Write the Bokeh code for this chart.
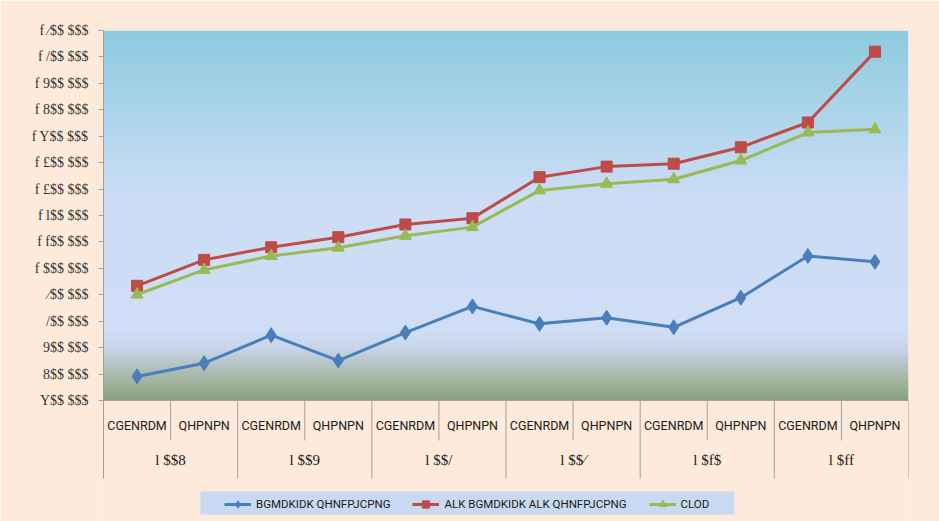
import numpy as np
from bokeh.plotting import figure
from bokeh.models import (Range1d, FixedTicker, Legend, LegendItem, PlainText)
from bokeh.core.properties import value
from bokeh.embed import file_html
from bokeh.resources import INLINE

# ---------------- data (text as shown in the reference) ----------------
years = ["l $$8", "l $$9", "l $$/", "l $$⁄", "l $f$", "l $ff"]
halves = ["CGENRDM", "QHPNPN"]
series_names = ["BGMDKIDK QHNFPJCPNG", "ALK BGMDKIDK ALK QHNFPJCPNG", "CLOD"]

blue = [591000, 641000, 747000, 651000, 757000, 856000,
        790000, 813000, 777000, 889000, 1047000, 1025000]
red = [934000, 1032000, 1080000, 1118000, 1166000, 1190000,
       1345000, 1385000, 1396000, 1458000, 1552000, 1820000]
green = [901000, 994000, 1047000, 1078000, 1123000, 1156000,
         1295000, 1320000, 1337000, 1408000, 1514000, 1526000]

y_ticks = [500000, 600000, 700000, 800000, 900000, 1000000, 1100000, 1200000,
           1300000, 1400000, 1500000, 1600000, 1700000, 1800000, 1900000]
y_tick_labels = ["Y$$ $$$", "8$$ $$$", "9$$ $$$", "/$$ $$$", "⁄$$ $$$",
                 "f $$$ $$$", "f f$$ $$$", "f l$$ $$$", "f £$$ $$$", "f £$$ $$$",
                 "f Y$$ $$$", "f 8$$ $$$", "f 9$$ $$$", "f /$$ $$$", "f ⁄$$ $$$"]

# ---------------- layout / style ----------------
W, H = 939, 521
LEFT, RIGHT, TOP = 103, 31, 30
PLOT_BOTTOM_PX = 400          # bottom of the coloured plot area
PAGE = "#FDEADA"
GRID = "#A0A0A0"
C_BLUE, C_RED, C_GREEN = "#4A7EBB", "#BE4B48", "#98B954"
SERIF_NAME = "Liberation Serif"
SANS_NAME = "Roboto"

periods = [(y, h) for y in years for h in halves]
n = len(periods)
xs = [i + 0.5 for i in range(n)]

y0, y1 = y_ticks[0], y_ticks[-1]
area_h = PLOT_BOTTOM_PX - TOP
frame_w = W - LEFT - RIGHT
k = (y1 - y0) / area_h                     # data units per pixel
y_start = y0 - (H - PLOT_BOTTOM_PX) * k    # frame continues down to the page bottom


def px_x(px):   # page pixel -> x data (layout helper for the legend box)
    return (px - LEFT) / frame_w * n


def px_y(py):   # page pixel -> y data
    return y0 - (py - PLOT_BOTTOM_PX) * k


p = figure(width=W, height=H, x_range=Range1d(0, n), y_range=Range1d(y_start, y1),
           output_backend="svg", toolbar_location=None, x_axis_location=None,
           min_border_left=LEFT, min_border_right=RIGHT,
           min_border_top=TOP, min_border_bottom=0,
           border_fill_color=PAGE, background_fill_color=PAGE,
           outline_line_color=None)
p.grid.visible = False

# gradient plot-area background (style only)
stops_px = [0, 90, 170, 300, 318, 345, 370]
stops_rgb = [(141, 203, 224), (176, 214, 236), (205, 222, 246), (208, 221, 247),
             (200, 212, 232), (168, 186, 170), (137, 162, 128)]
rows = np.arange(area_h)
img = np.empty((area_h, 1), dtype=np.uint32)
view = img.view(dtype=np.uint8).reshape((area_h, 1, 4))
for c in range(3):
    ch = np.interp(rows, stops_px, [s[c] for s in stops_rgb])
    view[:, 0, c] = ch[::-1].astype(np.uint8)
view[:, 0, 3] = 255
bg = p.image_rgba(image=[img], x=0, y=y0, dw=n, dh=y1 - y0)
bg.level = "underlay"

# value axis
yax = p.yaxis[0]
yax.ticker = FixedTicker(ticks=y_ticks)
yax.major_label_overrides = {t: PlainText(text=s) for t, s in zip(y_ticks, y_tick_labels)}
yax.bounds = (px_y(478), y1)
yax.minor_tick_line_color = None
yax.major_tick_out = 5
yax.major_tick_in = 0
yax.major_tick_line_color = GRID
yax.axis_line_color = GRID
yax.major_label_standoff = 10
yax.major_label_text_font = SERIF_NAME
yax.major_label_text_font_size = "14px"
yax.major_label_text_color = "#333333"

# category table below the plot area
short_x = [i for i in range(1, n, 2)]
long_x = [i for i in range(0, n + 1, 2)]
p.segment(x0=short_x + long_x, x1=short_x + long_x,
          y0=[y0] * (len(short_x) + len(long_x)),
          y1=[px_y(440)] * len(short_x) + [px_y(478)] * len(long_x),
          line_color=GRID, line_width=1)
p.segment(x0=[0], x1=[n], y0=[y0], y1=[y0], line_color=GRID, line_width=1)

p.text(x=xs, y=[px_y(425)] * n, text=[h for _, h in periods],
       text_align="center", text_baseline="middle",
       text_font=value(SANS_NAME), text_font_size="12.5px", text_color="#1A1A1A")
p.text(x=[2 * i + 1 for i in range(len(years))], y=[px_y(459)] * len(years), text=years,
       text_align="center", text_baseline="middle",
       text_font=value(SERIF_NAME), text_font_size="15px", text_color="#1A1A1A")

# legend box (style)
p.quad(left=[px_x(200)], right=[px_x(734)], top=[px_y(491)], bottom=[px_y(514)],
       fill_color="#C9D9F1", line_color=None)

# series
renderers = []
for vals, col, marker, size in [(blue, C_BLUE, "diamond", 15),
                                (red, C_RED, "square", 11),
                                (green, C_GREEN, "triangle", 12)]:
    rl = p.line(xs, vals, line_color=col, line_width=3)
    rm = p.scatter(xs, vals, marker=marker, size=size, fill_color=col, line_color=col)
    renderers.append([rl, rm])

# legend
legend = Legend(items=[LegendItem(label=s, renderers=r) for s, r in zip(series_names, renderers)],
                orientation="horizontal", location=(226 - LEFT - 2, H - 513),
                background_fill_alpha=0, border_line_color=None,
                label_text_font=SANS_NAME, label_text_font_size="11.5px",
                label_text_color="#1A1A1A", label_height=18,
                glyph_width=27, glyph_height=18, label_standoff=5, spacing=22,
                padding=2, margin=0)
p.add_layout(legend)

open("out.html", "w").write(file_html(p, INLINE))
